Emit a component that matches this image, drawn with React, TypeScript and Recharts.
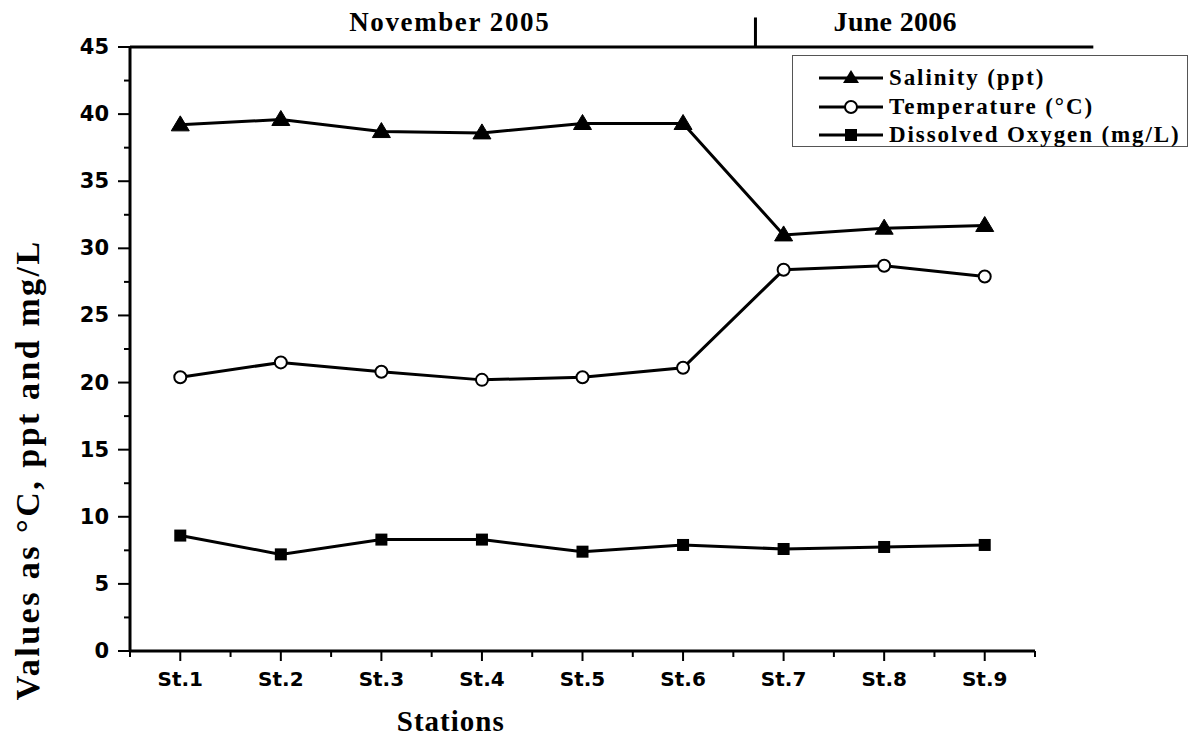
import React from 'react';
import { LineChart, Line, XAxis, YAxis, Legend, ReferenceLine, ReferenceDot } from 'recharts';

const stations = ['St.1', 'St.2', 'St.3', 'St.4', 'St.5', 'St.6', 'St.7', 'St.8', 'St.9'];
const salinity = [39.2, 39.6, 38.7, 38.6, 39.3, 39.3, 31.0, 31.5, 31.7];
const temperature = [20.4, 21.5, 20.8, 20.2, 20.4, 21.1, 28.4, 28.7, 27.9];
const dissolvedOxygen = [8.6, 7.2, 8.3, 8.3, 7.4, 7.9, 7.6, 7.75, 7.9];
const yTicks = [0, 2.5, 5, 7.5, 10, 12.5, 15, 17.5, 20, 22.5, 25, 27.5, 30, 32.5, 35, 37.5, 40, 42.5, 45];
const xTicks = [0.5, 1, 1.5, 2, 2.5, 3, 3.5, 4, 4.5, 5, 5.5, 6, 6.5, 7, 7.5, 8, 8.5, 9, 9.5];
const periodLabels = ['November 2005', 'June 2006'];
const seriesNames = ['Salinity (ppt)', 'Temperature (\u00B0C)', 'Dissolved Oxygen (mg/L)'];

const data = stations.map((s, i) => ({
  x: i + 1,
  station: s,
  sal: salinity[i],
  temp: temperature[i],
  dox: dissolvedOxygen[i],
}));

const SERIF = '"Liberation Serif", "Times New Roman", serif';
const SANS = '"DejaVu Sans", Arial, sans-serif';

const Triangle = (props: any) => {
  const { cx, cy, index } = props;
  if (cx == null || cy == null) return null;
  return <polygon key={'tri' + index} points={`${cx},${cy - 9} ${cx - 9},${cy + 6} ${cx + 9},${cy + 6}`} fill="#000" stroke="#000" strokeWidth={1} />;
};
const Square = (props: any) => {
  const { cx, cy, index } = props;
  if (cx == null || cy == null) return null;
  return <rect key={'sq' + index} x={cx - 6} y={cy - 6} width={12} height={12} fill="#000" />;
};

const YTick = (props: any) => {
  const { x, y, payload } = props;
  const v = payload.value;
  const major = v % 5 === 0;
  return (
    <g>
      <line x1={x} x2={x - (major ? 12 : 6)} y1={y} y2={y} stroke="#000" strokeWidth={2} />
      {major && (
        <text x={x - 21} y={y} dy={7} textAnchor="end" fontFamily={SANS} fontWeight="bold" fontSize={21} fill="#000">
          {v}
        </text>
      )}
    </g>
  );
};

const XTick = (props: any) => {
  const { x, y, payload } = props;
  const v = payload.value;
  const major = Number.isInteger(v);
  return (
    <g>
      <line x1={x} x2={x} y1={y} y2={y + (major ? 10 : 6)} stroke="#000" strokeWidth={2} />
      {major && (
        <text x={x} y={y + 35} textAnchor="middle" fontFamily={SANS} fontWeight="bold" fontSize={20} fill="#000">
          {stations[v - 1]}
        </text>
      )}
    </g>
  );
};

const LegendIcon = ({ kind }: { kind: number }) => (
  <svg width={66} height={20} style={{ display: 'block' }}>
    <line x1={1} x2={65} y1={10} y2={10} stroke="#000" strokeWidth={3} />
    {kind === 0 && <polygon points="33,2 25,15 41,15" fill="#000" />}
    {kind === 1 && <circle cx={33} cy={10} r={6} fill="#fff" stroke="#000" strokeWidth={2} />}
    {kind === 2 && <rect x={27} y={4} width={12} height={12} fill="#000" />}
  </svg>
);

const LegendBox = () => (
  <div
    style={{
      border: '1px solid #555',
      width: 394,
      height: 90,
      boxSizing: 'content-box',
      background: '#fff',
      position: 'relative',
    }}
  >
    {seriesNames.map((n, i) => (
      <div
        key={n}
        style={{
          position: 'absolute',
          left: 25,
          top: 12 + i * 28.5,
          display: 'flex',
          alignItems: 'center',
          height: 20,
        }}
      >
        <LegendIcon kind={i} />
        <span
          style={{
            marginLeft: 5,
            fontFamily: SERIF,
            fontWeight: 'bold',
            fontSize: 23,
            letterSpacing: 1.9,
            color: '#000',
            whiteSpace: 'nowrap',
            lineHeight: '20px',
          }}
        >
          {n}
        </span>
      </div>
    ))}
  </div>
);

export default function App() {
  return (
    <div style={{ position: 'absolute', left: 0, top: 0, width: 1190, height: 742, background: '#fff' }}>
      <LineChart
        width={1190}
        height={742}
        data={data}
        margin={{ top: 47, right: 155, bottom: 51, left: 0 }}
      >
        <XAxis
          dataKey="x"
          type="number"
          domain={[0.5, 9.5]}
          ticks={xTicks}
          interval={0}
          tick={<XTick />}
          tickLine={false}
          tickSize={0}
          tickMargin={0}
          height={40}
          axisLine={{ stroke: '#000', strokeWidth: 3 }}
          allowDecimals
        />
        <YAxis
          type="number"
          domain={[0, 45]}
          ticks={yTicks}
          interval={0}
          tick={<YTick />}
          tickLine={false}
          tickSize={0}
          tickMargin={0}
          width={130}
          axisLine={{ stroke: '#000', strokeWidth: 3 }}
        />
        <ReferenceLine
          segment={[{ x: 0.5, y: 45 }, { x: 10.08, y: 45 }]}
          stroke="#000"
          strokeWidth={3}
          ifOverflow="visible"
        />
        <ReferenceLine
          segment={[{ x: 6.72, y: 45 }, { x: 6.72, y: 47.2 }]}
          stroke="#000"
          strokeWidth={3}
          ifOverflow="visible"
        />
        <ReferenceDot
          x={3.68}
          y={46.9}
          r={0}
          ifOverflow="visible"
          label={{ value: periodLabels[0], position: 'center', fill: '#000', fontFamily: SERIF, fontWeight: 'bold', fontSize: 27, letterSpacing: 1.6 }}
        />
        <ReferenceDot
          x={8.11}
          y={46.9}
          r={0}
          ifOverflow="visible"
          label={{ value: periodLabels[1], position: 'center', fill: '#000', fontFamily: SERIF, fontWeight: 'bold', fontSize: 28, letterSpacing: 0.3 }}
        />
        <ReferenceDot
          x={3.69}
          y={-5.2}
          r={0}
          ifOverflow="visible"
          label={{ value: 'Stations', position: 'center', fill: '#000', fontFamily: SERIF, fontWeight: 'bold', fontSize: 29, letterSpacing: 1 }}
        />
        <ReferenceDot
          x={-0.52}
          y={13.5}
          r={0}
          ifOverflow="visible"
          label={{ value: 'Values as \u00B0C, ppt and mg/L', position: 'center', angle: -90, fill: '#000', fontFamily: SERIF, fontWeight: 'bold', fontSize: 34, letterSpacing: 2.5 }}
        />
        <Legend
          layout="horizontal"
          verticalAlign="middle"
          align="center"
          content={() => <LegendBox />}
          wrapperStyle={{ position: 'absolute', left: 792, top: 55, width: 396, height: 92 }}
        />
        <Line
          type="linear"
          dataKey="sal"
          name={seriesNames[0]}
          stroke="#000"
          strokeWidth={3}
          dot={<Triangle />}
          isAnimationActive={false}
        />
        <Line
          type="linear"
          dataKey="temp"
          name={seriesNames[1]}
          stroke="#000"
          strokeWidth={3}
          dot={{ r: 6, fill: '#fff', stroke: '#000', strokeWidth: 2 }}
          isAnimationActive={false}
        />
        <Line
          type="linear"
          dataKey="dox"
          name={seriesNames[2]}
          stroke="#000"
          strokeWidth={3}
          dot={<Square />}
          isAnimationActive={false}
        />
      </LineChart>
    </div>
  );
}
